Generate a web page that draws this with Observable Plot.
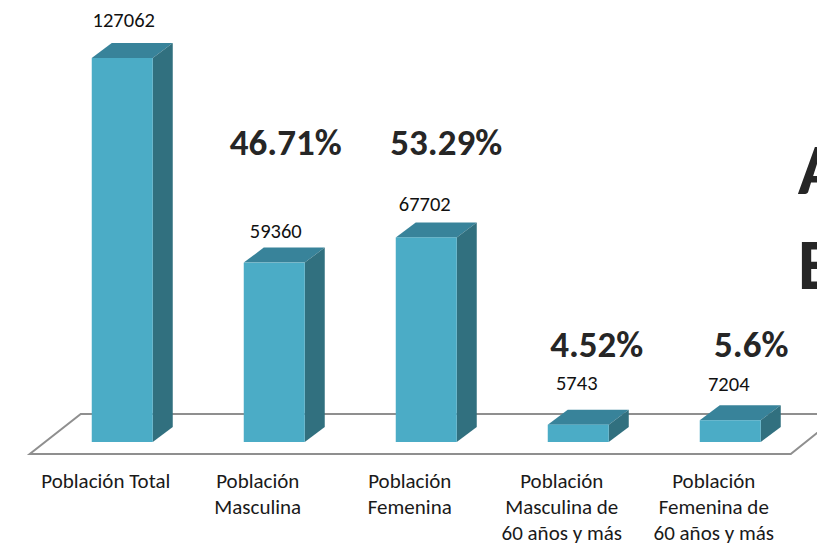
<!DOCTYPE html>
<html lang="es">
<head>
<meta charset="utf-8">
<script src="https://cdn.jsdelivr.net/npm/d3@7"></script>
<script src="https://cdn.jsdelivr.net/npm/@observablehq/plot@0.6"></script>
<style>
html,body{margin:0;padding:0;background:#fff;overflow:hidden}
svg{display:block}
</style>
</head>
<body>
<div id="chart"></div>
<script>
const categories = ["Población Total","Población\nMasculina","Población\nFemenina","Población\nMasculina de\n60 años y más","Población\nFemenina de\n60 años y más"];
const values = [127062,59360,67702,5743,7204];
const shares = [null,"46.71%","53.29%","4.52%","5.6%"];
const clippedLetters = ["A","E"];

const rows = categories.map((c,i)=>({c,v:values[i],s:shares[i]}));
const FONT = "Carlito, Calibri, Lato, 'Open Sans', sans-serif";
const DX = 20, DY = -15;

const polygon = (g, pts, fill) => g.append("polygon")
  .attr("points", pts.map(p=>p.join(",")).join(" ")).attr("fill", fill);
const bandwidth = x => typeof x.bandwidth === "function" ? x.bandwidth() : x.bandwidth;

function floor(index, scales) {
  const left = scales.x(categories[0]) - 62;
  const right = scales.x(categories[4]) + bandwidth(scales.x) + 30;
  const y0 = scales.y(0);
  const g = d3.create("svg:g");
  polygon(g, [[left,y0+12],[right,y0+12],[right+50,y0-28],[left+51,y0-28]], "none")
    .attr("stroke","#8f8f8f").attr("stroke-width",2);
  return g.node();
}

function boxes(index, scales) {
  const bw = bandwidth(scales.x);
  const y0 = scales.y(0);
  const g = d3.create("svg:g");
  for (const r of rows) {
    const x1 = scales.x(r.c), x2 = x1 + bw, yt = scales.y(r.v);
    polygon(g, [[x1,yt],[x1+DX,yt+DY],[x2+DX,yt+DY],[x2,yt]], "#38839A");
    polygon(g, [[x2,yt],[x2+DX,yt+DY],[x2+DX,y0+DY],[x2,y0]], "#31707F");
  }
  return g.node();
}

const valueLabel = (i, dx, dy) => Plot.text([rows[i]], {
  x:"c", y:"v", text:d=>String(d.v), dx, dy, fontSize:20.5, fill:"#111"
});
const shareLabel = (i, dx, dy) => Plot.text([rows[i]], {
  x:"c", y:()=>0, text:"s", dx, dy, fontSize:37, fontWeight:700, fill:"#262626"
});
const letter = (s, dy) => Plot.text([s], {
  x:()=>categories[4], y:()=>0, text:d=>d, textAnchor:"start", dx:67, dy, fontSize:72, fontWeight:700, fill:"#262626"
});

const chart = Plot.plot({
  width:817, height:543,
  marginLeft:46.25, marginRight:10.75, marginTop:0, marginBottom:0,
  style:{fontFamily:FONT, background:"#fff"},
  x:{domain:categories, axis:null, paddingInner:0.5987, paddingOuter:0.29935, round:false},
  y:{domain:[0,127062], range:[442,58], axis:null},
  marks:[
    floor,
    boxes,
    Plot.barY(rows,{x:"c", y:"v", fill:"#4BACC6"}),
    valueLabel(0, 1, -38),
    valueLabel(1, 1, -32),
    valueLabel(2, -2, -33),
    valueLabel(3, -2, -42),
    valueLabel(4, -2, -36),
    shareLabel(1, 11, -299),
    shareLabel(2, 19.5, -299),
    shareLabel(3, 18, -97),
    shareLabel(4, 20.5, -97),
    Plot.text(categories,{x:d=>d, y:()=>0, text:d=>d, dx:-17, dy:26.5, lineAnchor:"top", lineHeight:1.24, fontSize:21, fill:"#1a1a1a"}),
    letter(clippedLetters[0], -272),
    letter(clippedLetters[1], -177)
  ]
});
document.getElementById("chart").appendChild(chart);
</script>
</body>
</html>
